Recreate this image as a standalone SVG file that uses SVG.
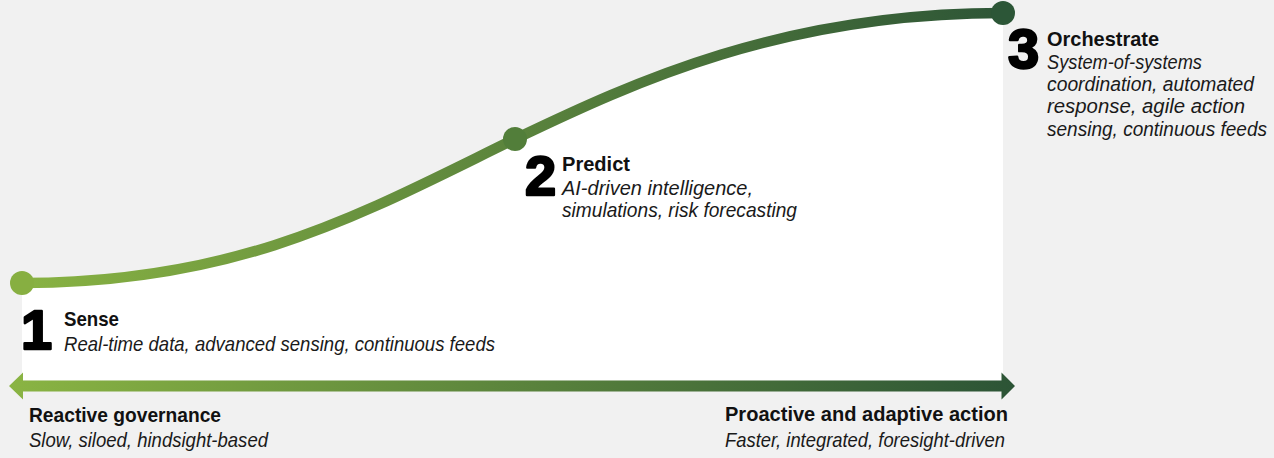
<svg xmlns="http://www.w3.org/2000/svg" width="1274" height="458" viewBox="0 0 1274 458">
  <defs>
    <linearGradient id="grad" gradientUnits="userSpaceOnUse" x1="9" y1="0" x2="1015" y2="0">
      <stop offset="0" stop-color="#8ab443"/>
      <stop offset="1" stop-color="#2c5436"/>
    </linearGradient>
    <style>
      .num { font-family: "Liberation Sans", Arial, sans-serif; font-weight: bold; font-size: 56px; fill: #000; stroke: #000; stroke-width: 2.4px; stroke-linejoin: round; }
      .ttl { font-family: "Liberation Sans", Arial, sans-serif; font-weight: bold; font-size: 21px; fill: #111; }
      .sub { font-family: "Liberation Sans", Arial, sans-serif; font-style: italic; font-size: 21px; fill: #1a1a1a; }
      .sub3 { font-size: 19.5px; }
      .curve { fill: none; stroke: url(#grad); stroke-width: 10.5px; }
    </style>
  </defs>
  <rect x="0" y="0" width="1274" height="458" fill="#f1f1f1"/>
  <path d="M22,283 C242,283 365,212 515,139 C635,81.6 783,13 1003,13 L1003,380.5 L22,380.5 Z" fill="#ffffff"/>
  <g id="connectors">
    <path class="curve" d="M22,283 C242,283 365,212 515,139 C635,81.6 783,13 1003,13"/>
  </g>
  <g id="axis">
    <path d="M9,386 L23,372.5 L23,380.5 L1001.5,380.5 L1001.5,372.5 L1015,386 L1001.5,399.5 L1001.5,391.5 L23,391.5 L23,399.5 Z" fill="url(#grad)"/>
  </g>
  <g id="node1">
    <circle cx="22" cy="283" r="12" fill="#87af41"/>
    <text class="num" x="21" y="349">1</text>
    <text class="ttl" x="64" y="326" textLength="55" lengthAdjust="spacingAndGlyphs">Sense</text>
    <text class="sub" x="64" y="351" textLength="431" lengthAdjust="spacingAndGlyphs">Real-time data, advanced sensing, continuous feeds</text>
  </g>
  <g id="node2">
    <circle cx="515" cy="139" r="12" fill="#527e3a"/>
    <text class="num" x="525" y="195">2</text>
    <text class="ttl" x="562" y="171" textLength="68" lengthAdjust="spacingAndGlyphs">Predict</text>
    <text class="sub" x="562" y="195" textLength="191" lengthAdjust="spacingAndGlyphs">AI-driven intelligence,</text>
    <text class="sub" x="562" y="217" textLength="235" lengthAdjust="spacingAndGlyphs">simulations, risk forecasting</text>
  </g>
  <g id="node3">
    <circle cx="1003" cy="13" r="12" fill="#2c5637"/>
    <text class="num" x="1008" y="68">3</text>
    <text class="ttl" x="1047" y="46" textLength="112" lengthAdjust="spacingAndGlyphs">Orchestrate</text>
    <text class="sub sub3" x="1047" y="69" textLength="155" lengthAdjust="spacingAndGlyphs">System-of-systems</text>
    <text class="sub sub3" x="1047" y="91" textLength="207" lengthAdjust="spacingAndGlyphs">coordination, automated</text>
    <text class="sub sub3" x="1047" y="113" textLength="198" lengthAdjust="spacingAndGlyphs">response, agile action</text>
    <text class="sub sub3" x="1047" y="136" textLength="220" lengthAdjust="spacingAndGlyphs">sensing, continuous feeds</text>
  </g>
  <g id="reactive">
    <text class="ttl" x="29" y="422" textLength="192" lengthAdjust="spacingAndGlyphs">Reactive governance</text>
    <text class="sub" x="29" y="447" textLength="239" lengthAdjust="spacingAndGlyphs">Slow, siloed, hindsight-based</text>
  </g>
  <g id="proactive">
    <text class="ttl" x="725" y="421" textLength="283" lengthAdjust="spacingAndGlyphs">Proactive and adaptive action</text>
    <text class="sub" x="725" y="447" textLength="280" lengthAdjust="spacingAndGlyphs">Faster, integrated, foresight-driven</text>
  </g>
</svg>
